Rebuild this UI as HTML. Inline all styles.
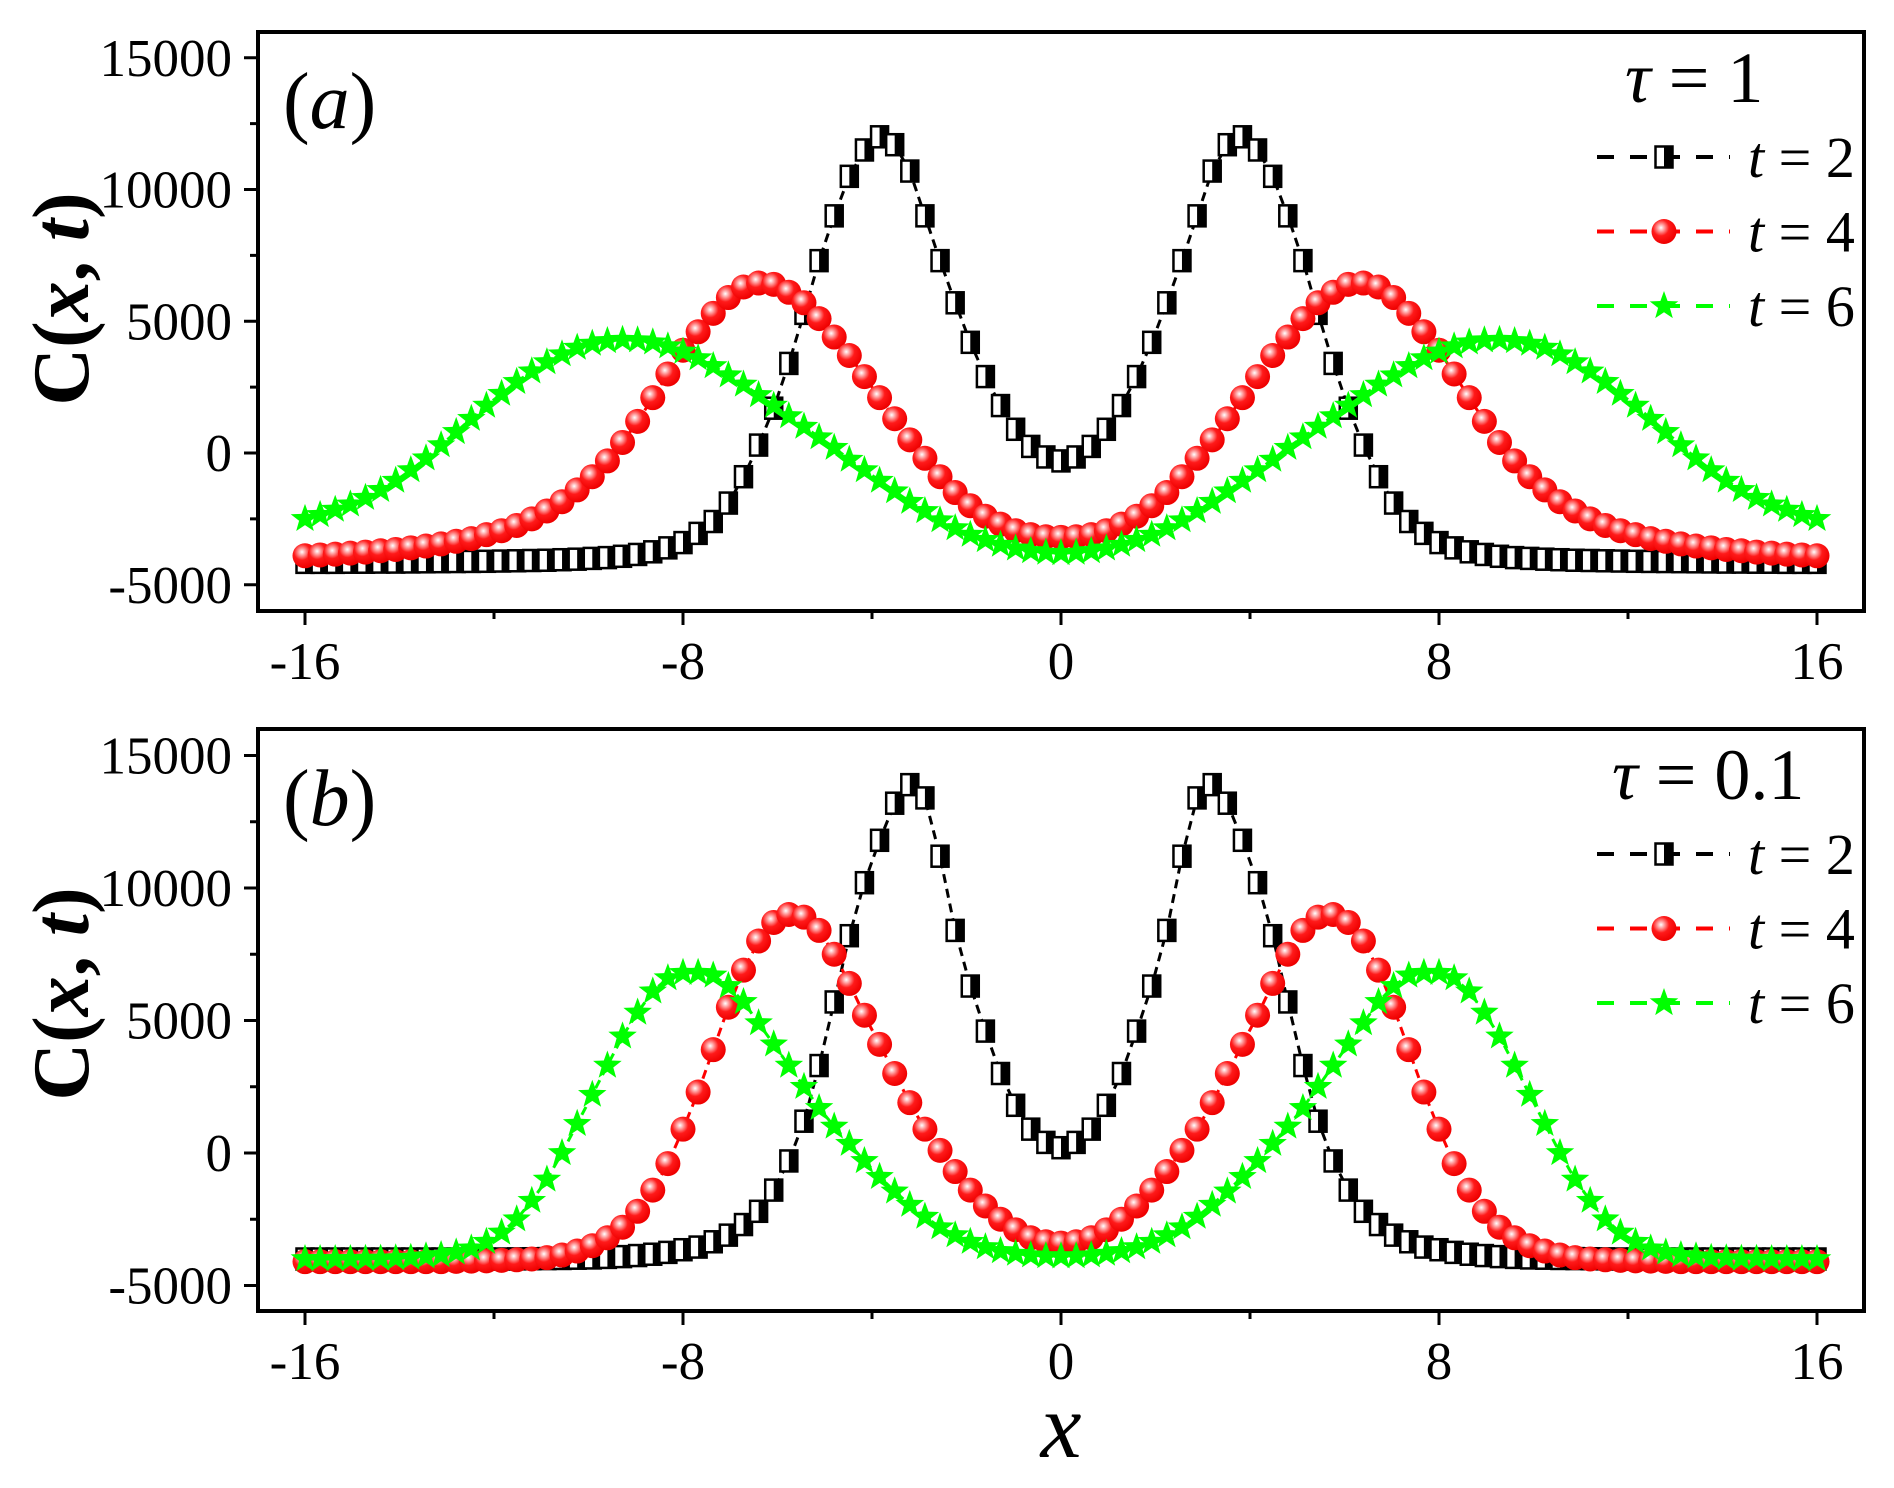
<!DOCTYPE html>
<html><head><meta charset="utf-8"><style>
html,body{margin:0;padding:0;background:#fff;}
svg{display:block;font-family:"Liberation Serif",serif;}
</style></head><body>
<svg id="chart" width="1894" height="1488" viewBox="0 0 1894 1488" xmlns="http://www.w3.org/2000/svg">
<defs>
<radialGradient id="ballg" cx="0.38" cy="0.35" r="0.65">
<stop offset="0" stop-color="#ffffff"/><stop offset="0.22" stop-color="#ff9a9a"/><stop offset="0.5" stop-color="#ff1a1a"/><stop offset="1" stop-color="#ee0000"/>
</radialGradient>
</defs>
<g id="root"></g>
</svg>
<script>
const xValues = [];
for (let i = 0; i <= 100; i++) xValues.push(-16 + 0.32 * i);
const xTicks = [-16, -8, 0, 8, 16];
const xTickLabels = ["-16", "-8", "0", "8", "16"];
const yTicks = [-5000, 0, 5000, 10000, 15000];
const yTickLabels = ["-5000", "0", "5000", "10000", "15000"];
const legendLabels = ["2", "4", "6"];

const seriesA_t2 = [-4150,-4150,-4150,-4145,-4145,-4140,-4140,-4135,-4130,-4125,-4120,-4115,-4110,-4100,-4090,-4080,-4070,-4050,-4030,-4000,-3970,-3920,-3850,-3750,-3600,-3400,-3050,-2600,-1900,-900,300,1700,3400,5300,7300,9000,10500,11500,12000,11700,10700,9000,7300,5700,4200,2900,1800,900,250,-150,-300,-150,250,900,1800,2900,4200,5700,7300,9000,10700,11700,12000,11500,10500,9000,7300,5300,3400,1700,300,-900,-1900,-2600,-3050,-3400,-3600,-3750,-3850,-3920,-3970,-4000,-4030,-4050,-4070,-4080,-4090,-4100,-4110,-4115,-4120,-4125,-4130,-4135,-4140,-4140,-4145,-4145,-4150,-4150,-4150];
const seriesA_t4 = [-3900,-3870,-3840,-3800,-3760,-3710,-3660,-3600,-3530,-3450,-3350,-3250,-3100,-2950,-2750,-2500,-2200,-1850,-1400,-900,-300,400,1200,2100,3000,3900,4600,5300,5900,6300,6450,6400,6100,5700,5100,4400,3700,2900,2100,1300,500,-200,-900,-1500,-2000,-2400,-2700,-2950,-3100,-3180,-3200,-3180,-3100,-2950,-2700,-2400,-2000,-1500,-900,-200,500,1300,2100,2900,3700,4400,5100,5700,6100,6400,6450,6300,5900,5300,4600,3900,3000,2100,1200,400,-300,-900,-1400,-1850,-2200,-2500,-2750,-2950,-3100,-3250,-3350,-3450,-3530,-3600,-3660,-3710,-3760,-3800,-3840,-3870,-3900];
const seriesA_t6 = [-2500,-2350,-2150,-1950,-1700,-1400,-1050,-650,-200,300,800,1300,1800,2250,2700,3100,3450,3750,4000,4150,4250,4300,4280,4200,4050,3850,3600,3300,2950,2600,2200,1800,1400,1000,600,200,-250,-650,-1050,-1450,-1850,-2200,-2550,-2850,-3100,-3300,-3480,-3620,-3720,-3780,-3800,-3780,-3720,-3620,-3480,-3300,-3100,-2850,-2550,-2200,-1850,-1450,-1050,-650,-250,200,600,1000,1400,1800,2200,2600,2950,3300,3600,3850,4050,4200,4280,4300,4250,4150,4000,3750,3450,3100,2700,2250,1800,1300,800,300,-200,-650,-1050,-1400,-1700,-1950,-2150,-2350,-2500];
const seriesB_t2 = [-4000,-4000,-4000,-4000,-4000,-4000,-4000,-4000,-4000,-4000,-4000,-4000,-4000,-4000,-3995,-3990,-3985,-3980,-3970,-3960,-3940,-3910,-3870,-3820,-3750,-3650,-3550,-3350,-3100,-2700,-2200,-1400,-300,1200,3300,5700,8200,10200,11800,13200,13900,13400,11200,8400,6300,4600,3000,1800,900,400,200,400,900,1800,3000,4600,6300,8400,11200,13400,13900,13200,11800,10200,8200,5700,3300,1200,-300,-1400,-2200,-2700,-3100,-3350,-3550,-3650,-3750,-3820,-3870,-3910,-3940,-3960,-3970,-3980,-3985,-3990,-3995,-4000,-4000,-4000,-4000,-4000,-4000,-4000,-4000,-4000,-4000,-4000,-4000,-4000,-4000];
const seriesB_t4 = [-4100,-4100,-4100,-4100,-4100,-4100,-4100,-4100,-4100,-4100,-4090,-4080,-4070,-4050,-4030,-4000,-3950,-3850,-3700,-3500,-3200,-2800,-2200,-1400,-400,900,2300,3900,5500,6900,8000,8700,9000,8900,8400,7500,6400,5200,4100,3000,1900,900,100,-700,-1400,-2000,-2500,-2900,-3200,-3350,-3400,-3350,-3200,-2900,-2500,-2000,-1400,-700,100,900,1900,3000,4100,5200,6400,7500,8400,8900,9000,8700,8000,6900,5500,3900,2300,900,-400,-1400,-2200,-2800,-3200,-3500,-3700,-3850,-3950,-4000,-4030,-4050,-4070,-4080,-4090,-4100,-4100,-4100,-4100,-4100,-4100,-4100,-4100,-4100,-4100];
const seriesB_t6 = [-4000,-4000,-4000,-4000,-3990,-3985,-3970,-3950,-3900,-3850,-3750,-3600,-3350,-3000,-2500,-1800,-1000,0,1100,2200,3300,4400,5300,6100,6600,6800,6800,6700,6300,5700,4900,4100,3300,2500,1700,1000,350,-300,-900,-1450,-1950,-2400,-2800,-3100,-3350,-3550,-3700,-3800,-3860,-3890,-3900,-3890,-3860,-3800,-3700,-3550,-3350,-3100,-2800,-2400,-1950,-1450,-900,-300,350,1000,1700,2500,3300,4100,4900,5700,6300,6700,6800,6800,6600,6100,5300,4400,3300,2200,1100,0,-1000,-1800,-2500,-3000,-3350,-3600,-3750,-3850,-3900,-3950,-3970,-3985,-3990,-4000,-4000,-4000,-4000];

const NS = "http://www.w3.org/2000/svg";
const root = document.getElementById("root");
function mk(tag, attrs, parent) {
  const e = document.createElementNS(NS, tag);
  for (const k in attrs) e.setAttribute(k, attrs[k]);
  (parent || root).appendChild(e);
  return e;
}
const X0 = 305, XS = 47.25;
function xScale(x) { return X0 + (x + 16) * XS; }

const panels = [
  { key: "a", top: 32, bottom: 611, y0: 453, ys: 131.75 / 5000, series: [seriesA_t2, seriesA_t4, seriesA_t6], label: "a", tau: "1", ylabelY: 299 },
  { key: "b", top: 729, bottom: 1311, y0: 1153, ys: 132.5 / 5000, series: [seriesB_t2, seriesB_t4, seriesB_t6], label: "b", tau: "0.1", ylabelY: 994 }
];
const L = 258, R = 1864;
const colors = ["#000000", "#ff0000", "#00ff00"];

function starPts(cx, cy, ro, ri) {
  let p = [];
  for (let i = 0; i < 10; i++) {
    const a = -Math.PI / 2 + i * Math.PI / 5;
    const r = i % 2 ? ri : ro;
    p.push((cx + r * Math.cos(a)).toFixed(1) + "," + (cy + r * Math.sin(a)).toFixed(1));
  }
  return p.join(" ");
}
function marker(kind, cx, cy, parent) {
  if (kind === 0) {
    const g = mk("g", {}, parent);
    mk("rect", { x: cx - 8.5, y: cy - 10.5, width: 17, height: 21, fill: "#fff", stroke: "#000", "stroke-width": 2.5 }, g);
    mk("rect", { x: cx, y: cy - 10.5, width: 8.5, height: 21, fill: "#000" }, g);
    return g;
  } else if (kind === 1) {
    return mk("circle", { cx: cx, cy: cy, r: 12.5, fill: "url(#ballg)" }, parent);
  } else {
    return mk("polygon", { points: starPts(cx, cy, 15, 6.2), fill: "#00ff00" }, parent);
  }
}

panels.forEach(p => {
  const yScale = v => p.y0 - v * p.ys;
  const g = mk("g", {});
  
  
  const seriesNames = ["t2", "t4", "t6"];
  p.series.forEach((vals, si) => {
    const sg = mk("g", {}, g);
    
    
    const d = vals.map((v, i) => (i ? "L" : "M") + xScale(xValues[i]).toFixed(1) + " " + yScale(v).toFixed(1)).join(" ");
    mk("path", { d: d, fill: "none", stroke: colors[si], "stroke-width": 3, "stroke-dasharray": "9 6" }, sg);
    vals.forEach((v, i) => {
      const m = marker(si, xScale(xValues[i]), yScale(v), sg);
      
      
    });
  });
  const fr = mk("rect", { x: L, y: p.top, width: R - L, height: p.bottom - p.top, fill: "none", stroke: "#000", "stroke-width": 4 }, g);
  
  
  const yAxis = mk("g", {}, g);
  
  
  yTicks.forEach((t, i) => {
    const y = yScale(t);
    mk("line", { x1: L - 14, x2: L, y1: y, y2: y, stroke: "#000", "stroke-width": 3 }, yAxis);
    const tx = mk("text", { x: 232, y: y + 18, "text-anchor": "end", "font-size": 53 }, yAxis);
    tx.textContent = yTickLabels[i];
    
    
    if (i < yTicks.length - 1) {
      const ym = yScale(t + 2500);
      mk("line", { x1: L - 8, x2: L, y1: ym, y2: ym, stroke: "#000", "stroke-width": 3 }, yAxis);
    }
  });
  const xAxis = mk("g", {}, g);
  
  
  xTicks.forEach((t, i) => {
    const x = xScale(t);
    mk("line", { x1: x, x2: x, y1: p.bottom, y2: p.bottom + 14, stroke: "#000", "stroke-width": 3 }, xAxis);
    const tx = mk("text", { x: x, y: p.bottom + 68, "text-anchor": "middle", "font-size": 53 }, xAxis);
    tx.textContent = xTickLabels[i];
    
    
    if (i < xTicks.length - 1) {
      const xm = xScale(t + 4);
      mk("line", { x1: xm, x2: xm, y1: p.bottom, y2: p.bottom + 8, stroke: "#000", "stroke-width": 3 }, xAxis);
    }
  });
  const yt = mk("text", { transform: "translate(88," + p.ylabelY + ") rotate(-90)", "text-anchor": "middle", "font-size": 80, "font-weight": "bold" }, g);
  yt.innerHTML = 'C(<tspan font-style="italic">x</tspan>, <tspan font-style="italic">t</tspan>)';
  
  
  const pl = mk("text", { x: 283, y: p.top + 96, "font-size": 80 }, g);
  pl.innerHTML = '(<tspan font-style="italic">' + p.label + '</tspan>)';
  
  
  const lg = mk("g", {}, g);
  
  
  const tauX = p.key === "a" ? 1625 : 1612;
  const tt = mk("text", { x: tauX, y: p.top + 70, "font-size": 72 }, lg);
  tt.innerHTML = '<tspan font-style="italic">τ</tspan> = ' + p.tau;
  
  
  legendLabels.forEach((lab, i) => {
    const cy = p.top + 125 + i * 74.5;
    const eg = mk("g", {}, lg);
    
    
    mk("line", { x1: 1597, x2: 1730, y1: cy, y2: cy, stroke: colors[i], "stroke-width": 4, "stroke-dasharray": "17 16" }, eg);
    marker(i, 1664, cy, eg);
    const tx = mk("text", { x: 1748, y: cy + 20, "font-size": 58 }, eg);
    tx.innerHTML = '<tspan font-style="italic">t</tspan> = ' + lab;
  });
});
const xt = mk("text", { x: 1061, y: 1457, "text-anchor": "middle", "font-size": 92, "font-style": "italic" });
xt.textContent = "x";


</script>
</body></html>
